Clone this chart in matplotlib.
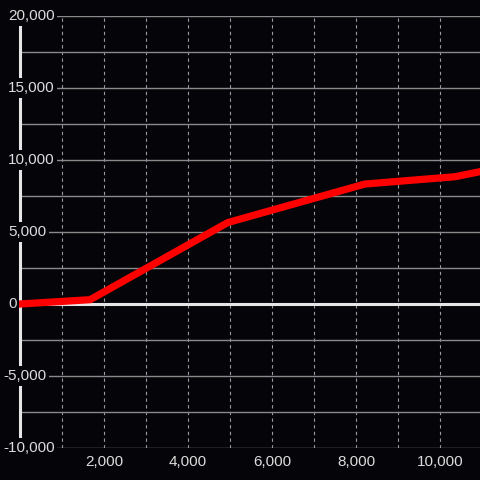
import numpy as np
import matplotlib
matplotlib.use("Agg")
import matplotlib.pyplot as plt

# data
x_vals = [0, 1670, 4950, 8210, 10360, 11000]
y_vals = [0, 300, 5660, 8330, 8840, 9220]

y_ticks = [-10000, -5000, 0, 5000, 10000, 15000, 20000]
x_ticks = [2000, 4000, 6000, 8000, 10000]

bg = "#050408"
fg = "#dcdcdc"

plt.rcParams['font.family'] = ['Liberation Sans', 'DejaVu Sans']

fig = plt.figure(figsize=(4.8, 4.8), dpi=100, facecolor=bg)
ax = fig.add_axes([20 / 480, 32 / 480, 460 / 480, 432 / 480])
ax.set_facecolor(bg)
ax.set_xlim(0, 10950)
ax.set_ylim(-10000, 20000)

# grid
ax.set_yticks(np.arange(-10000, 20001, 2500))
ax.set_xticks(np.arange(1000, 10001, 1000))
ax.grid(axis='y', color='#8a8a8a', linewidth=1.0, zorder=1)
ax.grid(axis='x', color='#9a9a9a', linewidth=0.8, linestyle=(0, (3, 3)), zorder=1)
ax.set_yticklabels([])
ax.set_xticklabels([f"{int(v):,}" if v in x_ticks else "" for v in ax.get_xticks()],
                   color=fg, fontsize=11)
ax.tick_params(length=0, pad=5)
ax.tick_params(axis='x', labelcolor=fg)

for s in ['top', 'right', 'bottom']:
    ax.spines[s].set_visible(False)
ax.spines['left'].set_color('#e6e6e6')
ax.spines['left'].set_linewidth(2.2)
ax.spines['left'].set_zorder(3)

ax.axhline(0, color='#e6e6e6', linewidth=2.2, zorder=3)

ax.plot(x_vals, y_vals, color='#ff0000', linewidth=5.2, zorder=4, clip_on=False,
        solid_joinstyle='miter')

for v in y_ticks:
    off = -17 if v < 0 else -12
    ax.annotate(f"{v:,}", xy=(0, v), xycoords=ax.get_yaxis_transform(),
                xytext=(off, 0), textcoords='offset pixels',
                ha='left', va='center', color=fg, fontsize=11, zorder=6,
                bbox=dict(facecolor=bg, edgecolor='none', pad=2), annotation_clip=False)

fig.savefig("out.png", dpi=100, facecolor=bg)
